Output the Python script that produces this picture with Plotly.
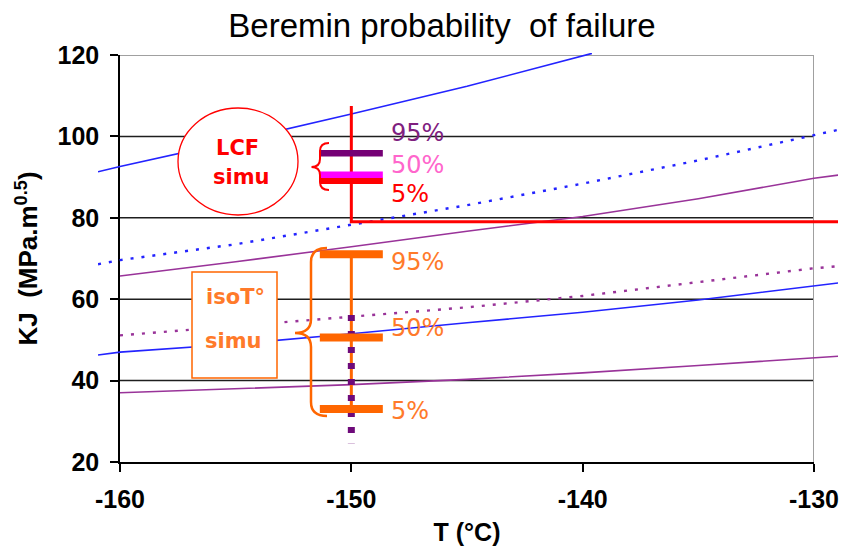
import plotly.graph_objects as go

# ---------------- data ----------------
T_blue_hi = [-160.95, -160, -155, -150, -145, -139.6]
K_blue_hi = [91.3, 92.6, 98.9, 105.5, 112.3, 120.4]

T_blue_dot = [-160.95, -160, -155, -150, -145, -140, -135, -130, -128.96]
K_blue_dot = [68.6, 69.6, 73.5, 78.3, 83.1, 88.4, 94.1, 100.3, 101.6]

T_purp_hi = [-160, -155, -150, -145, -140, -135, -130, -128.96]
K_purp_hi = [65.7, 69.2, 72.9, 76.7, 80.3, 84.7, 89.7, 90.5]

T_purp_dot = [-160, -155, -150, -145, -140, -135, -130, -128.96]
K_purp_dot = [51.1, 53.4, 55.7, 58.0, 60.8, 64.2, 67.6, 68.1]

T_blue_lo = [-160.95, -160, -155, -150, -145, -140, -135, -130, -128.96]
K_blue_lo = [46.3, 47.0, 49.0, 51.5, 54.2, 56.8, 59.8, 63.2, 64.0]

T_purp_lo = [-160, -155, -150, -145, -140, -135, -130, -128.96]
K_purp_lo = [37.0, 38.0, 39.0, 40.3, 41.9, 43.7, 45.6, 46.0]

# LCF simulation threshold (vertical then horizontal red line)
T_lcf = [-150, -150, -128.96]
K_lcf = [107.5, 79.0, 79.0]

T_sim = -150
levels = ["95%", "50%", "5%"]
lcf_K = [95.85, 90.6, 89.1]          # LCF simu 95 / 50 / 5 %
iso_K = [71.05, 50.6, 33.0]          # isoT simu 95 / 50 / 5 %
iso_dist_K = [56.1, 24.6]            # dotted purple distribution span

x_ticks = [-160, -150, -140, -130]
x_ticktext = ["-160", "-150", "-140", "-130"]
y_ticks = [20, 40, 60, 80, 100, 120]
y_grid = [40, 60, 80, 100]

# ---------------- geometry (pixels of the 842x552 page) ----------------
W, H = 842, 552
FX0, FX1 = 120, 814      # frame x pixels for -160 .. -130
FY_TOP, FY_BOT = 55, 462  # frame y pixels for 120 .. 20
DX0, DX1 = 98, 838        # wider data area (lines overhang the frame)
sx = (FX1 - FX0) / 30.0
sy = (FY_BOT - FY_TOP) / 100.0
x2_range = [-160 - (FX0 - DX0) / sx, -130 + (DX1 - FX1) / sx]
DY_TOP, DY_BOT = 53, 464
y2_range = [20 - (DY_BOT - FY_BOT) / sy, 120 + (FY_TOP - DY_TOP) / sy]


def px(x):
    return x / W


def py(y):
    return 1 - y / H


BLUE = "#2323FF"
PURPLE = "#993399"
DPURPLE = "#750075"
MAGENTA = "#FF00FF"
RED = "#FF0000"
ORANGE = "#FF6600"
ORANGE_T = "#FF7A2A"

fig = go.Figure()


def line(x, y, color, width=1.6, dash=None):
    fig.add_trace(go.Scatter(
        x=x, y=y, mode="lines", xaxis="x2", yaxis="y2", showlegend=False,
        hoverinfo="skip", line=dict(color=color, width=width, dash=dash)))


line(T_blue_hi, K_blue_hi, BLUE)
line(T_blue_dot, K_blue_dot, BLUE, 2.4, "3px,8px")
line(T_purp_hi, K_purp_hi, PURPLE)
line(T_purp_dot, K_purp_dot, PURPLE, 2.4, "3px,8px")
line(T_blue_lo, K_blue_lo, BLUE)
line(T_purp_lo, K_purp_lo, PURPLE)
line(T_lcf, K_lcf, RED, 3)

# LCF simu bars
for k, c in zip([lcf_K[0], lcf_K[2], lcf_K[1]], [DPURPLE, RED, MAGENTA]):
    fig.add_trace(go.Scatter(
        x=[T_sim], y=[k], mode="markers", xaxis="x2", yaxis="y2",
        showlegend=False, hoverinfo="skip",
        marker=dict(symbol="line-ew", size=45, color=c, line=dict(color=c, width=6.5))))

# isoT simu span and distribution
line([T_sim, T_sim], [iso_K[0], iso_K[2]], ORANGE, 3)
line([T_sim, T_sim], iso_dist_K, "#6E0A7A", 7, "6px,10px")
fig.add_trace(go.Scatter(
    x=[T_sim] * 3, y=iso_K, mode="markers", xaxis="x2", yaxis="y2",
    showlegend=False, hoverinfo="skip",
    marker=dict(symbol="line-ew", size=45, color=ORANGE, line=dict(color=ORANGE, width=8))))

# ---------------- shapes ----------------
shapes = []
for g in y_grid:
    shapes.append(dict(type="line", xref="x", yref="y", x0=-160, x1=-130, y0=g, y1=g,
                       layer="below", line=dict(color="#1E1E1E", width=1.5)))
shapes.append(dict(type="line", xref="x", yref="y", x0=-160, x1=-130, y0=120, y1=120,
                   layer="below", line=dict(color="#A0A0A0", width=2)))
shapes.append(dict(type="line", xref="x", yref="y", x0=-130, x1=-130, y0=20, y1=120,
                   layer="below", line=dict(color="#A0A0A0", width=2)))

# LCF ellipse and isoT box
shapes.append(dict(type="circle", xref="paper", yref="paper",
                   x0=px(178), x1=px(298), y0=py(215), y1=py(108),
                   fillcolor="white", line=dict(color=RED, width=1.3), layer="above"))
shapes.append(dict(type="rect", xref="paper", yref="paper",
                   x0=px(192), x1=px(277), y0=py(378), y1=py(272),
                   fillcolor="white", line=dict(color=ORANGE, width=1.5), layer="above"))


def brace(x_tip, x_mid, x_end, y_top, y_mid, y_bot, r):
    pts = [("M", [(x_end, y_top)]),
           ("Q", [(x_mid, y_top), (x_mid, y_top + r)]),
           ("L", [(x_mid, y_mid - r)]),
           ("Q", [(x_mid, y_mid), (x_tip, y_mid)]),
           ("Q", [(x_mid, y_mid), (x_mid, y_mid + r)]),
           ("L", [(x_mid, y_bot - r)]),
           ("Q", [(x_mid, y_bot), (x_end, y_bot)])]
    s = ""
    for cmd, ps in pts:
        s += cmd + " " + " ".join(f"{px(a):.5f},{py(b):.5f}" for a, b in ps) + " "
    return s.strip()


shapes.append(dict(type="path", xref="paper", yref="paper",
                   path=brace(311.5, 320, 329, 143, 167, 190, 8),
                   line=dict(color=RED, width=2), layer="above"))
shapes.append(dict(type="path", xref="paper", yref="paper",
                   path=brace(295, 311, 327, 248, 333, 416, 14),
                   line=dict(color=ORANGE, width=2.5), layer="above"))

# ---------------- annotations ----------------
ann = []


def text(x, y, s, color, size, family="DejaVu Sans", weight="normal", xanchor="center"):
    ann.append(dict(xref="paper", yref="paper", x=px(x), y=py(y), text=s, showarrow=False,
                    xanchor=xanchor, yanchor="middle",
                    font=dict(family=family, size=size, color=color, weight=weight)))


text(237, 148, "LCF", RED, 21, weight="bold")
text(241, 177, "simu", RED, 21, weight="bold")
text(235, 297, "isoT°", ORANGE_T, 21, weight="bold")
text(234, 341, "simu", ORANGE_T, 21, weight="bold")

lcf_cols = ["#7F207F", "#FF66CC", RED]
for lab, yy, c in zip(levels, [133, 165, 194], lcf_cols):
    text(389, yy, lab, c, 24, xanchor="left")
for lab, yy in zip(levels, [262, 328, 411]):
    text(389, yy, lab, ORANGE_T, 24, xanchor="left")

BOLD = dict(family="Liberation Sans, Arial, sans-serif", size=25, color="black", weight="bold")
YT = dict(family="Liberation Sans, Arial, sans-serif", size=26, color="black", weight="bold")

fig.update_layout(
    width=W, height=H,
    margin=dict(l=0, r=0, t=0, b=0, autoexpand=False),
    paper_bgcolor="white", plot_bgcolor="rgba(0,0,0,0)",
    title=dict(text="Beremin probability\u00a0 of failure", x=px(442), xanchor="center",
               y=py(25), yanchor="middle", automargin=False,
               font=dict(family="Liberation Sans, Arial, sans-serif", size=33, color="black")),
    xaxis=dict(domain=[px(FX0), px(FX1)], range=[-160, -130], anchor="y", automargin=False,
               tickvals=x_ticks, ticktext=x_ticktext, ticks="outside", ticklen=8,
               tickwidth=1.5, tickcolor="black", showline=True, linecolor="black",
               linewidth=1.5, showgrid=False, zeroline=False, tickfont=BOLD,
               ticklabelstandoff=6,
               title=dict(text="T (°C)", font=BOLD, standoff=12)),
    yaxis=dict(domain=[py(FY_BOT), py(FY_TOP)], range=[20, 120], anchor="x", automargin=False,
               tickvals=y_ticks, ticks="outside", ticklen=8, tickwidth=1.5,
               tickcolor="black", showline=True, linecolor="black", linewidth=1.5,
               showgrid=False, zeroline=False, tickfont=BOLD, ticklabelstandoff=6,
               title=dict(text="KJ\u00a0 (MPa.m<sup>0.5</sup>)", font=YT, standoff=12)),
    xaxis2=dict(domain=[px(DX0), px(DX1)], range=x2_range, anchor="y2", visible=False),
    yaxis2=dict(domain=[py(DY_BOT), py(DY_TOP)], range=y2_range, anchor="x2", visible=False),
    shapes=shapes,
    annotations=ann,
)

fig.write_html("out.html", config={"displayModeBar": False},
               post_script="document.body.style.margin='0px';document.body.style.overflow='hidden';")
